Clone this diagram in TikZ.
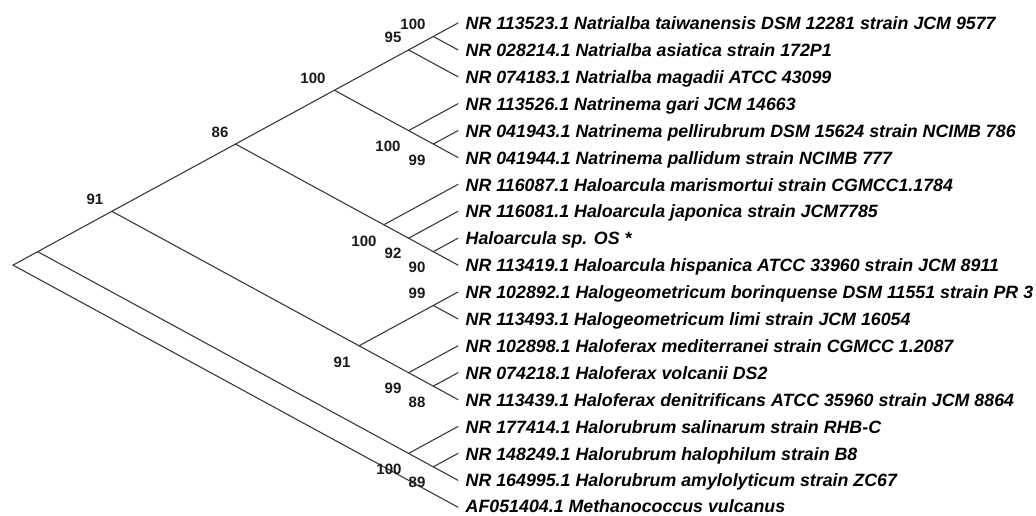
\documentclass[tikz,border=0pt]{standalone}
\usepackage{fontspec}
\setmainfont{Liberation Sans}
\definecolor{branchgray}{HTML}{3A3A3A}
\tikzset{
  branch/.style={draw=branchgray, line width=1.1pt, line cap=round, line join=round},
  taxon/.style={anchor=base west, inner sep=0pt, text=black,
                font=\fontsize{17.8}{20}\selectfont\bfseries\itshape},
  boot/.style={inner sep=0pt, text=black!90,
               font=\fontsize{15}{17}\selectfont\bfseries},
}
\begin{document}
\begin{tikzpicture}[x=1pt,y=-1pt]
\useasboundingbox (0,0) rectangle (1036,515);

% leaf tips
\coordinate (t1)  at (458,23.0);
\coordinate (t2)  at (458,49.9);
\coordinate (t3)  at (458,76.8);
\coordinate (t4)  at (458,103.7);
\coordinate (t5)  at (458,130.6);
\coordinate (t6)  at (458,157.5);
\coordinate (t7)  at (458,184.4);
\coordinate (t8)  at (458,211.3);
\coordinate (t9)  at (458,238.2);
\coordinate (t10) at (458,265.1);
\coordinate (t11) at (458,292.0);
\coordinate (t12) at (458,318.9);
\coordinate (t13) at (458,345.8);
\coordinate (t14) at (458,372.7);
\coordinate (t15) at (458,399.6);
\coordinate (t16) at (458,426.5);
\coordinate (t17) at (458,453.4);
\coordinate (t18) at (458,480.3);
\coordinate (t19) at (458,507.2);

% internal nodes (slanted cladogram)
\coordinate (c12)   at (433.3,36.45);
\coordinate (c13)   at (408.6,49.9);
\coordinate (c56)   at (433.3,144.05);
\coordinate (c46)   at (408.6,130.6);
\coordinate (c16)   at (334.4,90.25);
\coordinate (c910)  at (433.3,251.65);
\coordinate (c810)  at (408.6,238.2);
\coordinate (c710)  at (383.8,224.75);
\coordinate (c110)  at (235.5,144.05);
\coordinate (c1112) at (433.3,305.45);
\coordinate (c1415) at (433.3,386.15);
\coordinate (c1315) at (408.6,372.7);
\coordinate (c1115) at (359.1,345.8);
\coordinate (c115)  at (111.9,211.3);
\coordinate (c1718) at (433.3,466.85);
\coordinate (c1618) at (408.6,453.4);
\coordinate (c118)  at (37.7,251.65);
\coordinate (root)  at (13.0,265.1);

% branches
\draw[branch] (root) -- (c118);
\draw[branch] (root) -- (t19);
\draw[branch] (c118) -- (c115);
\draw[branch] (c118) -- (c1618);
\draw[branch] (c115) -- (c110);
\draw[branch] (c115) -- (c1115);
\draw[branch] (c110) -- (c16);
\draw[branch] (c110) -- (c710);
\draw[branch] (c16) -- (c13);
\draw[branch] (c16) -- (c46);
\draw[branch] (c13) -- (c12);
\draw[branch] (c13) -- (t3);
\draw[branch] (c12) -- (t1);
\draw[branch] (c12) -- (t2);
\draw[branch] (c46) -- (t4);
\draw[branch] (c46) -- (c56);
\draw[branch] (c56) -- (t5);
\draw[branch] (c56) -- (t6);
\draw[branch] (c710) -- (t7);
\draw[branch] (c710) -- (c810);
\draw[branch] (c810) -- (t8);
\draw[branch] (c810) -- (c910);
\draw[branch] (c910) -- (t9);
\draw[branch] (c910) -- (t10);
\draw[branch] (c1115) -- (c1112);
\draw[branch] (c1115) -- (c1315);
\draw[branch] (c1112) -- (t11);
\draw[branch] (c1112) -- (t12);
\draw[branch] (c1315) -- (t13);
\draw[branch] (c1315) -- (c1415);
\draw[branch] (c1415) -- (t14);
\draw[branch] (c1415) -- (t15);
\draw[branch] (c1618) -- (t16);
\draw[branch] (c1618) -- (c1718);
\draw[branch] (c1718) -- (t17);
\draw[branch] (c1718) -- (t18);

% taxon labels
\node[taxon] (L1)  at (465.5,29.6)  {NR 113523.1 Natrialba taiwanensis DSM 12281 strain JCM 9577};
\node[taxon] (L2)  at (465.5,56.5)  {NR 028214.1 Natrialba asiatica strain 172P1};
\node[taxon] (L3)  at (465.5,83.4)  {NR 074183.1 Natrialba magadii ATCC 43099};
\node[taxon] (L4)  at (465.5,110.3) {NR 113526.1 Natrinema gari JCM 14663};
\node[taxon] (L5)  at (465.5,137.2) {NR 041943.1 Natrinema pellirubrum DSM 15624 strain NCIMB 786};
\node[taxon] (L6)  at (465.5,164.1) {NR 041944.1 Natrinema pallidum strain NCIMB 777};
\node[taxon] (L7)  at (465.5,191.0) {NR 116087.1 Haloarcula marismortui strain CGMCC1.1784};
\node[taxon] (L8)  at (465.5,217.9) {NR 116081.1 Haloarcula japonica strain JCM7785};
\node[taxon] (L9)  at (465.5,244.8) {Haloarcula sp. OS *};
\node[taxon] (L10) at (465.5,271.7) {NR 113419.1 Haloarcula hispanica ATCC 33960 strain JCM 8911};
\node[taxon] (L11) at (465.5,298.6) {NR 102892.1 Halogeometricum borinquense DSM 11551 strain PR 3};
\node[taxon] (L12) at (465.5,325.5) {NR 113493.1 Halogeometricum limi strain JCM 16054};
\node[taxon] (L13) at (465.5,352.4) {NR 102898.1 Haloferax mediterranei strain CGMCC 1.2087};
\node[taxon] (L14) at (465.5,379.3) {NR 074218.1 Haloferax volcanii DS2};
\node[taxon] (L15) at (465.5,406.2) {NR 113439.1 Haloferax denitrificans ATCC 35960 strain JCM 8864};
\node[taxon] (L16) at (465.5,433.1) {NR 177414.1 Halorubrum salinarum strain RHB-C};
\node[taxon] (L17) at (465.5,460.0) {NR 148249.1 Halorubrum halophilum strain B8};
\node[taxon] (L18) at (465.5,486.9) {NR 164995.1 Halorubrum amylolyticum strain ZC67};
\node[taxon, text depth=0pt] (L19) at (465.5,512.0) {AF051404.1 Methanococcus vulcanus};

% bootstrap support values
\node[boot] (b12)   at (413,24)  {100};
\node[boot] (b13)   at (393,37)  {95};
\node[boot] (b16)   at (313,78)  {100};
\node[boot] (b46)   at (388,146) {100};
\node[boot] (b56)   at (417,160) {99};
\node[boot] (b110)  at (220,132) {86};
\node[boot] (b710)  at (364,241) {100};
\node[boot] (b810)  at (393,253) {92};
\node[boot] (b910)  at (417,267) {90};
\node[boot] (b1112) at (417,293) {99};
\node[boot] (b1315) at (393,388) {99};
\node[boot] (b1415) at (417,402) {88};
\node[boot] (b1115) at (342,362) {91};
\node[boot] (b115)  at (95,199)  {91};
\node[boot] (b1618) at (389,469) {100};
\node[boot] (b1718) at (417,482) {89};
\end{tikzpicture}
\end{document}
